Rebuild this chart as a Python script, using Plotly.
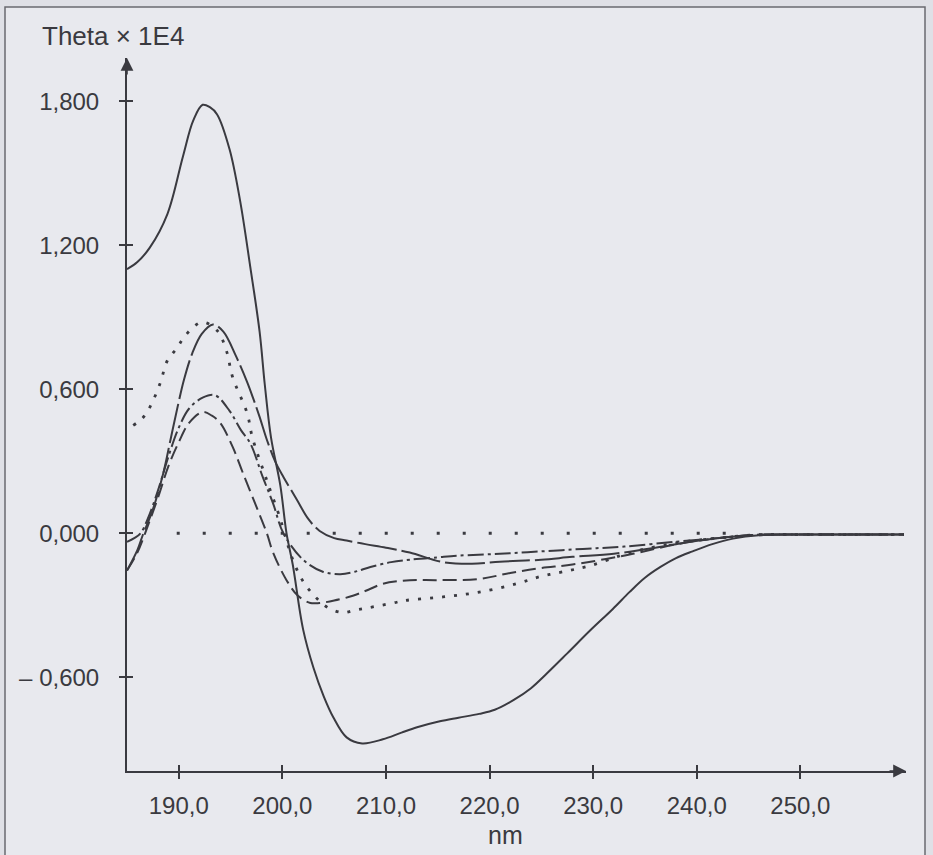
import plotly.graph_objects as go

# ---- data (wavelength nm, Theta x 1E4) ----
a_x = [185, 186, 187.2, 188.9, 190.4, 191.4, 192.3, 193.0, 193.7, 194.9, 195.9, 196.9, 197.8, 198.3, 198.9,
       199.8, 200.4, 201.0, 202.0, 203.0, 204.0, 204.9, 206.2, 207.7, 209.7, 211.5, 213.0, 215.2, 217.0,
       219.0, 220.5, 222.3, 224.0, 225.5, 227.5, 229.7, 231.9, 233.5, 235.0, 236.5, 238.0, 239.6,
       241.5, 243.5, 246.0, 250.0, 255.0, 260.0]
a_y = [1.10, 1.13, 1.19, 1.33, 1.57, 1.72, 1.785, 1.775, 1.745, 1.60, 1.39, 1.11, 0.84, 0.62, 0.40,
       0.20, 0.00, -0.13, -0.40, -0.56, -0.68, -0.765, -0.85, -0.875, -0.858, -0.83, -0.808, -0.783, -0.768,
       -0.752, -0.735, -0.695, -0.645, -0.585, -0.50, -0.405, -0.315, -0.245, -0.185, -0.14, -0.103, -0.075,
       -0.045, -0.022, -0.008, -0.005, -0.005, -0.005]

b_x = [185.6, 186.5, 187.2, 188.2, 188.9, 189.8, 190.4, 191.3, 192.3, 193.7, 194.6, 195.2, 196.6, 197.1,
       198.5, 199.8, 200.2, 201.0, 202.0, 203.3, 204.4, 205.8, 207.0, 208.3, 210.7, 211.8, 215.5,
       219.0, 222.6, 224.9, 227.1, 229.7, 233.6, 238.0, 242.0, 246.0, 250.0, 255.0, 260.0]
b_y = [0.45, 0.48, 0.525, 0.625, 0.72, 0.77, 0.81, 0.855, 0.88, 0.845, 0.76, 0.65, 0.50, 0.40,
       0.22, 0.06, 0.00, -0.11, -0.20, -0.27, -0.31, -0.33, -0.32, -0.31, -0.29, -0.28, -0.265,
       -0.245, -0.21, -0.18, -0.16, -0.135, -0.08, -0.04, -0.02, -0.006, -0.005, -0.005, -0.005]

c_x = [185, 186, 186.5, 187.5, 188.5, 189.2, 189.9, 190.5, 191.3, 192.2, 193.3, 194.3, 195.5, 196.6,
       197.2, 197.8, 198.5, 199.3, 200.1, 201.4, 202.5, 203.6, 205.0, 206.2, 208.0, 210.0, 212.3,
       215.5, 218.3, 221.0, 225.0, 228.0, 232.0, 236.0, 238.0, 242.0, 246.0, 250.0, 255.0, 260.0]
c_y = [-0.155, -0.07, -0.01, 0.10, 0.25, 0.39, 0.53, 0.64, 0.75, 0.83, 0.87, 0.84, 0.74, 0.63,
       0.56, 0.485, 0.39, 0.30, 0.235, 0.14, 0.06, 0.01, -0.02, -0.03, -0.045, -0.06, -0.08,
       -0.12, -0.127, -0.118, -0.11, -0.098, -0.085, -0.06, -0.045, -0.02, -0.006, -0.005, -0.005, -0.005]

d_x = [185, 185.7, 186.3, 187.0, 188.0, 189.0, 190.0, 191.0, 192.3, 193.5, 194.9, 196.0, 196.9, 198.1,
       199.1, 200.1, 202.0, 203.9, 205.6, 207.0, 208.5, 210.5, 212.3, 215.0, 217.0, 221.0, 225.0,
       229.0, 233.0, 238.0, 242.0, 246.0, 250.0, 255.0, 260.0]
d_y = [-0.035, -0.02, 0.0, 0.06, 0.18, 0.32, 0.44, 0.52, 0.565, 0.575, 0.51, 0.43, 0.375, 0.235,
       0.125, 0.0, -0.11, -0.16, -0.17, -0.16, -0.14, -0.12, -0.11, -0.10, -0.093, -0.085, -0.075,
       -0.065, -0.055, -0.035, -0.02, -0.006, -0.005, -0.005, -0.005]

e_x = [185, 186, 187, 188, 189, 190, 191, 192.3, 193.2, 194.0, 195.2, 196.2, 197.5, 198.5,
       199.1, 200.4, 201.5, 202.7, 203.6, 205.0, 206.8, 208.3, 209.7, 212.3, 215.0, 219.0, 222.0,
       224.9, 228.0, 233.3, 238.1, 242.0, 246.0, 250.0, 255.0, 260.0]
e_y = [-0.155, -0.08, 0.03, 0.15, 0.28, 0.38, 0.46, 0.505, 0.49, 0.46, 0.36, 0.25, 0.11, 0.0,
       -0.08, -0.195, -0.26, -0.29, -0.29, -0.28, -0.26, -0.235, -0.21, -0.195, -0.195, -0.19, -0.165,
       -0.145, -0.13, -0.09, -0.045, -0.02, -0.006, -0.005, -0.005, -0.005]

base_x = [189.8, 244.4]
base_y = [0.0, 0.0]

x_ticks = [190, 200, 210, 220, 230, 240, 250]
x_labels = ["190,0", "200,0", "210,0", "220,0", "230,0", "240,0", "250,0"]
y_ticks = [1.8, 1.2, 0.6, 0.0, -0.6]
y_labels = ["1,800", "1,200", "0,600", "0,000", "\u2013 0,600"]

X_RANGE = [185, 260.2]
Y_RANGE = [-0.99, 1.98]

INK = "rgb(58,58,64)"
PAPER = "#dfe0e6"
FONT = "Liberation Sans, Arial, Helvetica, sans-serif"

fig = go.Figure()

def add(x, y, dash, width=2.0):
    fig.add_trace(go.Scatter(x=x, y=y, mode="lines",
                             line=dict(color=INK, width=width, dash=dash, shape="spline", smoothing=1.0),
                             showlegend=False, hoverinfo="skip"))

add(base_x, base_y, "3px,23px", 3)
add(e_x, e_y, "14px,6px")
add(d_x, d_y, "16px,4px,3px,4px")
add(b_x, b_y, "3px,9px", 2.8)
add(c_x, c_y, "40px,5px")
add(a_x, a_y, "solid", 2.0)

# dummy trace to activate overlay axes for inner tick halves
fig.add_trace(go.Scatter(x=[None], y=[None], xaxis="x2", yaxis="y2", showlegend=False, hoverinfo="skip"))

axis_common = dict(showgrid=False, zeroline=False, tickcolor=INK, tickwidth=1.5, ticklen=6,
                   automargin=False, tickfont=dict(family=FONT, size=24, color=INK))

fig.update_layout(
    width=933, height=855, autosize=False,
    margin=dict(l=127, r=27, t=58, b=84),
    paper_bgcolor=PAPER,
    plot_bgcolor="rgba(0,0,0,0)",
    xaxis=dict(range=X_RANGE, tickmode="array", tickvals=x_ticks, ticktext=x_labels,
               ticks="outside", showline=True, linecolor=INK, linewidth=2,
               ticklabelstandoff=6, **axis_common),
    yaxis=dict(range=Y_RANGE, tickmode="array", tickvals=y_ticks, ticktext=y_labels,
               ticks="outside", showline=True, linecolor=INK, linewidth=2,
               ticklabelstandoff=15, **axis_common),
    xaxis2=dict(range=X_RANGE, overlaying="x", anchor="y2", side="bottom", tickmode="array",
                tickvals=x_ticks, ticks="inside", showticklabels=False, showline=False,
                **axis_common),
    yaxis2=dict(range=Y_RANGE, overlaying="y", anchor="x2", side="left", tickmode="array",
                tickvals=y_ticks, ticks="inside", showticklabels=False, showline=False,
                **axis_common),
    shapes=[dict(type="rect", xref="paper", yref="paper", layer="below",
                 x0=(5 - 127) / 779, x1=(925 - 127) / 779,
                 y0=(771 - 880) / 713, y1=(771 - 7) / 713,
                 fillcolor="#e8e9ee", line=dict(color="#6a6a70", width=1.5))],
    annotations=[
        dict(xref="paper", yref="paper", x=(40 - 127) / 779, y=(771 - 36) / 713,
             xanchor="left", yanchor="middle", text="Theta \u00d7 1E4", showarrow=False,
             font=dict(family=FONT, size=26, color=INK)),
        dict(xref="paper", yref="paper", x=(505 - 127) / 779, y=(771 - 835) / 713,
             xanchor="center", yanchor="middle", text="nm", showarrow=False,
             font=dict(family=FONT, size=25, color=INK)),
        dict(xref="x", yref="y", x=X_RANGE[1], y=Y_RANGE[0], ax=-18, ay=0, text="",
             showarrow=True, arrowhead=2, arrowsize=1.6, arrowwidth=1.6, arrowcolor=INK),
        dict(xref="x", yref="y", x=X_RANGE[0], y=Y_RANGE[1], ax=0, ay=18, text="",
             showarrow=True, arrowhead=2, arrowsize=1.6, arrowwidth=1.6, arrowcolor=INK),
    ],
)

fig.write_html("out.html", config={"displayModeBar": False},
               post_script="document.body.style.margin='0';document.body.style.background='%s';" % PAPER)
